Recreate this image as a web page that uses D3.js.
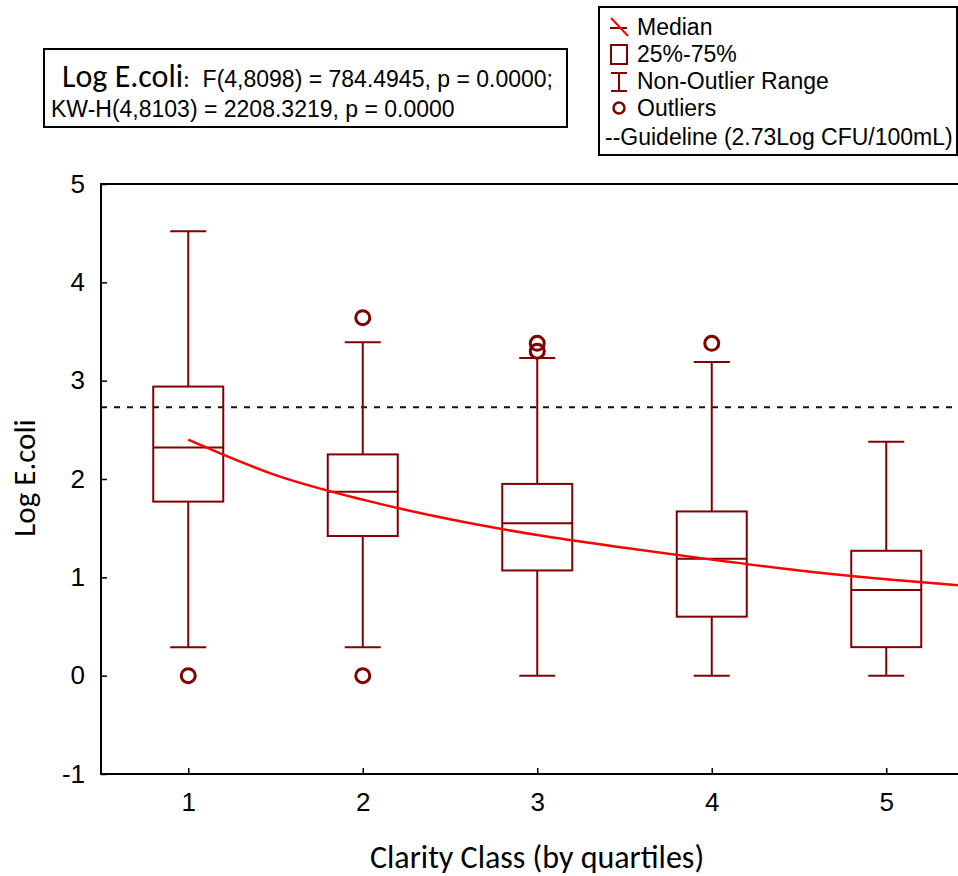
<!DOCTYPE html>
<html>
<head>
<meta charset="utf-8">
<title></title>
<script src="https://cdnjs.cloudflare.com/ajax/libs/d3/7.8.5/d3.min.js"></script>
<style>
  body { margin: 0; background: white }
  svg { display: block }
  .arial { font-family: "Liberation Sans", Arial, sans-serif }
  .cal { font-family: Carlito, Lato, "Open Sans", sans-serif }
</style>
</head>
<body>
<div id="chart"></div>
<script>
// clarity classes and box statistics
var classes = [1, 2, 3, 4, 5];
var medians = [2.32, 1.87, 1.55, 1.19, 0.87];
var q1 = [1.77, 1.42, 1.07, 0.60, 0.29];
var q3 = [2.94, 2.25, 1.95, 1.67, 1.27];
var whiskLo = [0.29, 0.29, 0.0, 0.0, 0.0];
var whiskHi = [4.52, 3.39, 3.23, 3.19, 2.38];
var outliers = [[0.0], [3.64, 0.0], [3.38, 3.30], [3.38], []];
var guideline = 2.73;
// fitted median trend (red curve)
var trendX = [1, 1.5, 2, 2.5, 3, 3.5, 4, 4.5, 5, 5.5];
var trendY = [2.40, 2.04, 1.79, 1.59, 1.43, 1.30, 1.18, 1.07, 0.98, 0.905];
var yTicks = [-1, 0, 1, 2, 3, 4, 5];

var W = 958, H = 876;
var plotL = 101, plotT = 184, plotB = 774;
var maroon = "#800000";

var svg = d3.select("#chart").append("svg")
    .attr("width", W).attr("height", H);

var x = d3.scaleLinear().domain([0.5, 5.5]).range([plotL, plotL + 5 * 174.5]);
var y = d3.scaleLinear().domain([-1, 5]).range([plotB, plotT]);

// frame
svg.append("path")
    .attr("d", "M" + W + "," + plotT + "H" + plotL + "V" + plotB + "H" + W)
    .attr("fill", "none").attr("stroke", "#000").attr("stroke-width", 2);

// axes with inward ticks
var fmt = function(d) { return String(d); };
var yAxis = d3.axisLeft(y).tickValues(yTicks).tickSize(-6).tickPadding(16).tickFormat(fmt);
var gy = svg.append("g").attr("transform", "translate(" + plotL + ",0)").call(yAxis);
var xAxis = d3.axisBottom(x).tickValues(classes).tickSize(-6).tickPadding(19).tickFormat(fmt);
var gx = svg.append("g").attr("transform", "translate(0," + plotB + ")").call(xAxis);
[gx, gy].forEach(function(g) {
  g.select(".domain").remove();
  g.selectAll(".tick line").attr("stroke", "#000").attr("stroke-width", 1.5);
  g.selectAll(".tick text").attr("class", "arial").attr("font-size", 26).attr("fill", "#000");
});

// guideline
svg.append("line")
    .attr("x1", plotL).attr("x2", W)
    .attr("y1", y(guideline)).attr("y2", y(guideline))
    .attr("stroke", "#111").attr("stroke-width", 2).attr("stroke-dasharray", "6,7");

var bw = 35, cw = 18;
var g = svg.append("g").attr("stroke", maroon).attr("stroke-width", 2).attr("fill", "none");
classes.forEach(function(c, i) {
  var cx = x(c);
  g.append("line").attr("x1", cx).attr("x2", cx).attr("y1", y(q3[i])).attr("y2", y(whiskHi[i]));
  g.append("line").attr("x1", cx).attr("x2", cx).attr("y1", y(q1[i])).attr("y2", y(whiskLo[i]));
  g.append("line").attr("x1", cx - cw).attr("x2", cx + cw).attr("y1", y(whiskHi[i])).attr("y2", y(whiskHi[i]));
  g.append("line").attr("x1", cx - cw).attr("x2", cx + cw).attr("y1", y(whiskLo[i])).attr("y2", y(whiskLo[i]));
  g.append("rect").attr("x", cx - bw).attr("width", 2 * bw)
      .attr("y", y(q3[i])).attr("height", y(q1[i]) - y(q3[i]));
  g.append("line").attr("x1", cx - bw).attr("x2", cx + bw).attr("y1", y(medians[i])).attr("y2", y(medians[i]));
  outliers[i].forEach(function(o) {
    g.append("circle").attr("cx", cx).attr("cy", y(o)).attr("r", 7).attr("stroke-width", 3);
  });
});

// trend curve
svg.append("path")
    .datum(trendX.map(function(d, i) { return [d, trendY[i]]; }))
    .attr("d", d3.line().x(function(d) { return x(d[0]); }).y(function(d) { return y(d[1]); }).curve(d3.curveMonotoneX))
    .attr("fill", "none").attr("stroke", "#ff0000").attr("stroke-width", 2.5);

// axis titles
svg.append("text").attr("class", "cal").attr("font-size", 32)
    .attr("x", 537).attr("y", 868).attr("text-anchor", "middle").text("Clarity Class (by quartiles)");
svg.append("text").attr("class", "cal").attr("font-size", 31)
    .attr("transform", "translate(35,478) rotate(-90)").attr("text-anchor", "middle").text("Log E.coli");

// stats box
svg.append("rect").attr("x", 44).attr("y", 49).attr("width", 523).attr("height", 78)
    .attr("fill", "white").attr("stroke", "#000").attr("stroke-width", 2);
var t1 = svg.append("text").attr("x", 62).attr("y", 87);
t1.append("tspan").attr("class", "cal").attr("font-size", 32).text("Log E.coli");
t1.append("tspan").attr("class", "cal").attr("font-size", 24).text(":");
t1.append("tspan").attr("class", "arial").attr("font-size", 23).attr("dx", 13).text("F(4,8098) = 784.4945, p = 0.0000;");
svg.append("text").attr("class", "arial").attr("font-size", 23).attr("x", 51).attr("y", 117)
    .text("KW-H(4,8103) = 2208.3219, p = 0.0000");

// legend
svg.append("rect").attr("x", 599).attr("y", 7).attr("width", 358).attr("height", 148)
    .attr("fill", "white").attr("stroke", "#000").attr("stroke-width", 2);
var lg = svg.append("g").attr("stroke", maroon).attr("stroke-width", 2).attr("fill", "none");
lg.append("line").attr("x1", 610).attr("x2", 627).attr("y1", 28).attr("y2", 28);
lg.append("line").attr("x1", 611).attr("x2", 628).attr("y1", 18).attr("y2", 36).attr("stroke", "#ff0000");
lg.append("rect").attr("x", 611).attr("y", 45).attr("width", 16).attr("height", 19);
lg.append("line").attr("x1", 611).attr("x2", 627).attr("y1", 73).attr("y2", 73);
lg.append("line").attr("x1", 619).attr("x2", 619).attr("y1", 73).attr("y2", 91);
lg.append("line").attr("x1", 611).attr("x2", 627).attr("y1", 91).attr("y2", 91);
lg.append("circle").attr("cx", 619).attr("cy", 108).attr("r", 5.5).attr("stroke-width", 2.5);
var legendText = ["Median", "25%-75%", "Non-Outlier Range", "Outliers"];
legendText.forEach(function(s, i) {
  svg.append("text").attr("class", "arial").attr("font-size", 23)
      .attr("x", 637).attr("y", 35 + i * 27).text(s);
});
svg.append("text").attr("class", "arial").attr("font-size", 23)
    .attr("x", 605).attr("y", 145).text("--Guideline (2.73Log CFU/100mL)");
</script>
</body>
</html>
